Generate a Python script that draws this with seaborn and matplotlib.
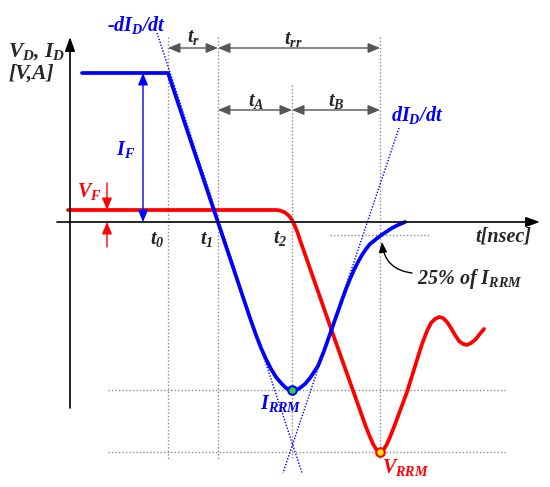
"""Diode reverse-recovery waveform sketch (current and voltage vs. time)."""

import matplotlib.pyplot as plt
import seaborn as sns

# drawing units: x = time, y = level (grows downward, like the sketch)
t_marks = [168, 218, 292, 380]          # t0, t1, t2, t0 + trr
t_names = ["$t_0$", "$t_1$", "$t_2$"]
t_name_pos = [(157, 239), (207, 239), (280, 238)]

lvl_if = 73
lvl_vf = 210
lvl_zero = 222
lvl_q25 = 235
lvl_irrm = 390
lvl_vrrm = 452

# diode current I_D
current_t = [82, 168, 250, 256, 261, 266, 271, 276, 281, 286, 290, 293, 296,
             300, 305, 310, 314, 318, 324, 330, 336, 342, 346, 350, 354, 358,
             362, 366, 370, 375, 380, 386, 392, 398, 405]
current_v = [73, 73, 318, 335, 348, 359, 369, 377, 383, 388, 390, 391, 390,
             388, 384, 378, 372, 366, 351, 334, 317, 300, 289, 279, 270, 262,
             255, 249, 244, 240, 236, 232, 228, 225, 222]

# diode voltage V_D
voltage_t = [68, 276, 280, 284, 287, 290, 292, 294, 297, 300, 335, 366, 370,
             373, 376, 380, 384, 387, 390, 394, 407, 422, 427, 431, 435, 439,
             443, 447, 451, 455, 459, 463, 467, 471, 475, 479, 484]
voltage_v = [210, 210, 210.5, 212, 214, 217, 220, 224, 231, 240, 340, 427,
             437, 444, 449, 452, 449, 444, 437, 427, 392, 344, 331, 323, 319,
             317, 318, 322, 328, 335, 341, 344, 345, 343, 340, 335, 329]

# tangent lines -dI/dt and dI/dt
fall_tan_t = [157, 302]
fall_tan_v = [33, 473]
rise_tan_t = [399, 283]
rise_tan_v = [128, 473]

BLUE = "#0000ff"
RED = "#ff0000"
GREY = "#555555"
DOT = "#8c8c8c"

sns.set_style("white")
plt.rcParams["font.family"] = ["Liberation Serif", "DejaVu Serif"]
plt.rcParams["mathtext.fontset"] = "custom"
for key in ("mathtext.rm", "mathtext.it", "mathtext.bf"):
    plt.rcParams[key] = "Liberation Serif:italic:bold"

fig = plt.figure(figsize=(5.5, 4.87), dpi=100)
ax = fig.add_axes([0, 0, 1, 1])
ax.set_xlim(0, 550)
ax.set_ylim(487, 0)
ax.axis("off")

dotted = dict(color=DOT, lw=1, ls=(0, (1, 1.5)))

# vertical guides
for t, top in zip(t_marks, [37, 37, 85, 37]):
    ax.plot([t, t], [top, 459], **dotted)
# horizontal guides
ax.plot([108, 505], [lvl_irrm, lvl_irrm], **dotted)
ax.plot([108, 505], [lvl_vrrm, lvl_vrrm], **dotted)
ax.plot([330, 430], [lvl_q25, lvl_q25], **dotted)

# tangents
ax.plot(fall_tan_t, fall_tan_v, color=BLUE, lw=1, ls=(0, (1, 1.2)))
ax.plot(rise_tan_t, rise_tan_v, color=BLUE, lw=1, ls=(0, (1, 1.2)))

# axes with arrows
axis_arrow = dict(arrowstyle="-|>,head_length=0.7,head_width=0.25",
                  color="black", lw=1.2, shrinkA=0, shrinkB=0,
                  mutation_scale=12)
ax.annotate("", xy=(70, 37), xytext=(70, 408), arrowprops=axis_arrow)
ax.annotate("", xy=(540, lvl_zero), xytext=(57, lvl_zero), arrowprops=axis_arrow)

# waveforms
sns.lineplot(x=voltage_t, y=voltage_v, sort=False, estimator=None,
             color=RED, lw=2.7, ax=ax)
sns.lineplot(x=current_t, y=current_v, sort=False, estimator=None,
             color=BLUE, lw=2.7, ax=ax)
ax.scatter([t_marks[2]], [lvl_irrm], s=38, color="#22dd22",
           edgecolor=BLUE, lw=1.5, zorder=5)
ax.scatter([t_marks[3]], [lvl_vrrm], s=38, color="#ffee00",
           edgecolor=RED, lw=1.5, zorder=5)

# timing arrows
span = dict(arrowstyle="<|-|>,head_length=0.6,head_width=0.25", color=GREY,
            lw=1, shrinkA=0, shrinkB=0, mutation_scale=12)
ax.annotate("", xy=(t_marks[0], 48), xytext=(t_marks[1], 48), arrowprops=span)
ax.annotate("", xy=(t_marks[1], 48), xytext=(t_marks[3], 48), arrowprops=span)
ax.annotate("", xy=(t_marks[1], 110), xytext=(t_marks[2], 110), arrowprops=span)
ax.annotate("", xy=(t_marks[2], 110), xytext=(t_marks[3], 110), arrowprops=span)

# I_F and V_F markers
ax.annotate("", xy=(143, lvl_if), xytext=(143, lvl_zero),
            arrowprops=dict(span, color=BLUE))
one_way = dict(arrowstyle="-|>,head_length=0.6,head_width=0.25", color=RED,
               lw=1, shrinkA=0, shrinkB=0, mutation_scale=12)
ax.annotate("", xy=(107, lvl_vf), xytext=(107, 183), arrowprops=one_way)
ax.annotate("", xy=(107, lvl_zero), xytext=(107, 247), arrowprops=one_way)

# 25% pointer
ax.annotate("", xy=(382, 242), xytext=(412, 273),
            arrowprops=dict(arrowstyle="-|>,head_length=0.5,head_width=0.2",
                            color="black", lw=1, shrinkA=0, shrinkB=0,
                            mutation_scale=12,
                            connectionstyle="arc3,rad=-0.4"))

txt = dict(fontweight="bold", fontstyle="italic", ha="center", va="center",
           fontsize=14.5)
ax.text(8, 52, r"$V_D$, $I_D$", **dict(txt, ha="left", fontsize=15.5))
ax.text(8, 74, "[V,A]", **dict(txt, ha="left", fontsize=15.5))
ax.text(137, 25, r"-d$I_D$/dt", color=BLUE, **txt)
ax.text(417, 115, r"d$I_D$/dt", color=BLUE, **txt)
ax.text(194, 37, r"$t_r$", **txt)
ax.text(293, 39, r"$t_{rr}$", **txt)
ax.text(256, 101, r"$t_A$", **txt)
ax.text(336, 101, r"$t_B$", **txt)
ax.text(126, 150, r"$I_F$", color=BLUE, **txt)
ax.text(89, 191, r"$V_F$", color=RED, **txt)
for name, (x, y) in zip(t_names, t_name_pos):
    ax.text(x, y, name, **txt)
ax.text(503, 236, "t[nsec]", **txt)
ax.text(470, 279, r"25% of $I_{RRM}$", **txt)
ax.text(281, 403, r"$I_{RRM}$", color=BLUE, **txt)
ax.text(406, 468, r"$V_{RRM}$", color=RED, **txt)

fig.savefig("out.png", dpi=100)
